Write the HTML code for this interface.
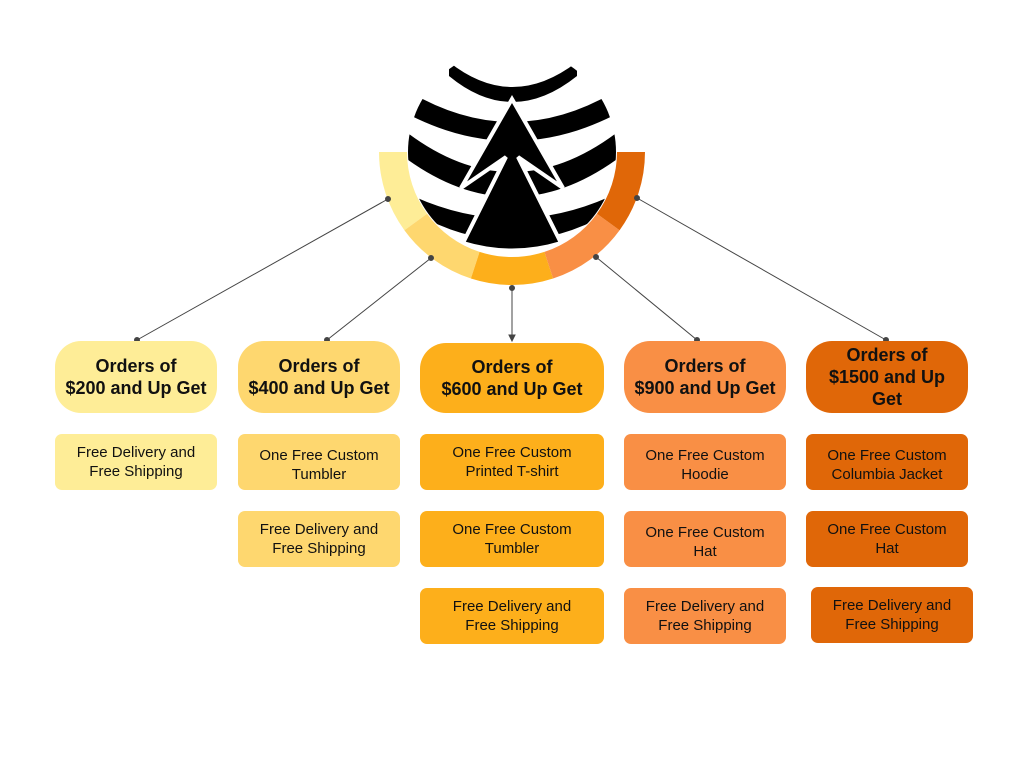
<!DOCTYPE html>
<html><head><meta charset="utf-8"><style>
body{margin:0;width:1024px;height:768px;background:#fff;position:relative;overflow:hidden;font-family:"Liberation Sans",sans-serif;color:#111}
.b{position:absolute;display:flex;align-items:center;justify-content:center;text-align:center;box-sizing:border-box}
.h{font-weight:bold;font-size:18px;line-height:22px;border-radius:26px}
.s{font-size:15px;line-height:19px;border-radius:7px}
.c1{background:#feed97}.c2{background:#fed76f}.c3{background:#fdaf1b}.c4{background:#f98f45}.c5{background:#e06708}
</style></head><body>
<svg width="1024" height="768" style="position:absolute;left:0;top:0">
<defs><clipPath id="cc"><circle cx="512" cy="152" r="104"/></clipPath></defs>
<g clip-path="url(#cc)" fill="#000">
<path d="M449 62 Q512 112 577 62 L577 76 Q512 128 449 76 Z"/>
<path d="M400 86 Q512 158 624 86 L624 110 Q512 172 400 110 Z"/>
<path d="M400 127 Q512 217 624 127 L624 154 Q512 240 400 154 Z"/>
<path d="M415 197 Q512 240 609 197 L609 213 Q512 268 415 213 Z"/>
</g>
<path d="M512 99 L563 188 L518 157 L561 243 Q512 258 463 243 L506 157 L461 188 Z" fill="#000" stroke="#fff" stroke-width="4" stroke-linejoin="miter"/>
<g>
<path d="M379 152 A133 133 0 0 0 404.4 230.2 L427.1 213.7 A105 105 0 0 1 407 152 Z" fill="#feed97"/>
<path d="M404.4 230.2 A133 133 0 0 0 470.9 278.5 L479.6 251.9 A105 105 0 0 1 427.1 213.7 Z" fill="#fed76f"/>
<path d="M470.9 278.5 A133 133 0 0 0 553.1 278.5 L544.4 251.9 A105 105 0 0 1 479.6 251.9 Z" fill="#fdaf1b"/>
<path d="M553.1 278.5 A133 133 0 0 0 619.6 230.2 L596.9 213.7 A105 105 0 0 1 544.4 251.9 Z" fill="#f98f45"/>
<path d="M619.6 230.2 A133 133 0 0 0 645 152 L617 152 A105 105 0 0 1 596.9 213.7 Z" fill="#e06708"/>
</g>
<g stroke="#444" stroke-width="1" fill="#444">
<line x1="388" y1="199" x2="137" y2="340"/><circle cx="388" cy="199" r="2.5"/><circle cx="137" cy="340" r="2.5"/>
<line x1="431" y1="258" x2="327" y2="340"/><circle cx="431" cy="258" r="2.5"/><circle cx="327" cy="340" r="2.5"/>
<line x1="512" y1="288" x2="512" y2="340"/><circle cx="512" cy="288" r="2.5"/><polygon points="509,335 515,335 512,341"/>
<line x1="596" y1="257" x2="697" y2="340"/><circle cx="596" cy="257" r="2.5"/><circle cx="697" cy="340" r="2.5"/>
<line x1="637" y1="198" x2="886" y2="340"/><circle cx="637" cy="198" r="2.5"/><circle cx="886" cy="340" r="2.5"/>
</g>
</svg>
<div class="b h c1" style="left:55px;top:341px;width:162px;height:72px">Orders of<br>$200 and Up Get</div>
<div class="b h c2" style="left:238px;top:341px;width:162px;height:72px">Orders of<br>$400 and Up Get</div>
<div class="b h c3" style="left:420px;top:343px;width:184px;height:70px">Orders of<br>$600 and Up Get</div>
<div class="b h c4" style="left:624px;top:341px;width:162px;height:72px">Orders of<br>$900 and Up Get</div>
<div class="b h c5" style="left:806px;top:341px;width:162px;height:72px">Orders of<br>$1500 and Up<br>Get</div>

<div class="b s c1" style="left:55px;top:434px;width:162px;height:56px">Free Delivery and<br>Free Shipping</div>
<div class="b s c2" style="left:238px;top:434px;width:162px;height:56px;padding-top:6px">One Free Custom<br>Tumbler</div>
<div class="b s c2" style="left:238px;top:511px;width:162px;height:56px">Free Delivery and<br>Free Shipping</div>
<div class="b s c3" style="left:420px;top:434px;width:184px;height:56px">One Free Custom<br>Printed T-shirt</div>
<div class="b s c3" style="left:420px;top:511px;width:184px;height:56px">One Free Custom<br>Tumbler</div>
<div class="b s c3" style="left:420px;top:588px;width:184px;height:56px">Free Delivery and<br>Free Shipping</div>
<div class="b s c4" style="left:624px;top:434px;width:162px;height:56px;padding-top:6px">One Free Custom<br>Hoodie</div>
<div class="b s c4" style="left:624px;top:511px;width:162px;height:56px;padding-top:6px">One Free Custom<br>Hat</div>
<div class="b s c4" style="left:624px;top:588px;width:162px;height:56px">Free Delivery and<br>Free Shipping</div>
<div class="b s c5" style="left:806px;top:434px;width:162px;height:56px;padding-top:6px">One Free Custom<br>Columbia Jacket</div>
<div class="b s c5" style="left:806px;top:511px;width:162px;height:56px">One Free Custom<br>Hat</div>
<div class="b s c5" style="left:811px;top:587px;width:162px;height:56px">Free Delivery and<br>Free Shipping</div>
</body></html>
